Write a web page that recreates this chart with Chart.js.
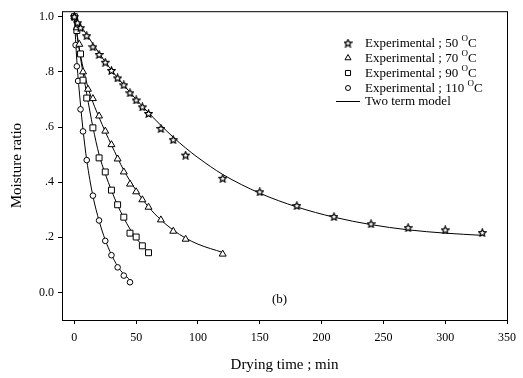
<!DOCTYPE html>
<html>
<head>
<meta charset="utf-8">
<script src="https://cdn.jsdelivr.net/npm/chart.js@4/dist/chart.umd.min.js"></script>
<style>
  html, body { margin: 0; padding: 0; background: #fff; }
  #wrap { width: 523px; height: 378px; }
</style>
</head>
<body>
<div id="wrap"><canvas id="dryChart" width="523" height="378"></canvas></div>
<script>
// --- Data ---
const t50 = [0, 2.5, 5, 10, 15, 20, 25, 30, 35, 40, 45, 50, 55, 60, 70, 80, 90, 120, 150, 180, 210, 240, 270, 300, 330];
const mr50 = [1.0, 0.978, 0.960, 0.931, 0.891, 0.863, 0.835, 0.805, 0.778, 0.753, 0.724, 0.698, 0.673, 0.649, 0.595, 0.554, 0.498, 0.414, 0.365, 0.315, 0.275, 0.249, 0.235, 0.227, 0.217];

const t70 = [0, 2, 4, 7, 11, 15, 20, 25, 30, 35, 40, 45, 50, 55, 60, 70, 80, 90, 120];
const mr70 = [1.0, 0.96, 0.90, 0.80, 0.737, 0.703, 0.64, 0.585, 0.536, 0.484, 0.437, 0.393, 0.365, 0.336, 0.309, 0.263, 0.222, 0.193, 0.139];

const t90 = [0, 2, 5, 7, 10, 15, 20, 25, 30, 35, 40, 45, 50, 55, 60];
const mr90 = [1.0, 0.95, 0.865, 0.77, 0.705, 0.597, 0.488, 0.437, 0.371, 0.318, 0.273, 0.215, 0.201, 0.169, 0.144];

const t110 = [0, 1, 2, 3, 5, 7, 10, 15, 20, 25, 30, 35, 40, 45];
const mr110 = [1.0, 0.897, 0.82, 0.767, 0.664, 0.584, 0.48, 0.351, 0.261, 0.187, 0.135, 0.091, 0.061, 0.037];

// two term model curves (traced)
const tm50 = [0, 10, 20, 30, 40, 50, 60, 70, 80, 90, 100, 120, 150, 180, 210, 240, 270, 300, 330];
const fit50 = [1.0, 0.935, 0.868, 0.806, 0.752, 0.70, 0.652, 0.606, 0.563, 0.524, 0.489, 0.428, 0.36, 0.31, 0.273, 0.246, 0.227, 0.215, 0.207];
const tm70 = [0, 5, 10, 15, 20, 25, 30, 40, 50, 60, 70, 80, 90, 100, 120];
const fit70 = [1.0, 0.86, 0.76, 0.69, 0.635, 0.583, 0.535, 0.443, 0.37, 0.31, 0.263, 0.226, 0.197, 0.175, 0.145];
const tm90 = [0, 5, 10, 15, 20, 25, 30, 35, 40, 45, 50, 55, 60];
const fit90 = [1.0, 0.85, 0.72, 0.60, 0.50, 0.43, 0.37, 0.316, 0.27, 0.23, 0.197, 0.17, 0.146];
const tm110 = [0, 2, 5, 7, 10, 15, 20, 25, 30, 35, 40, 44];
const fit110 = [1.0, 0.84, 0.68, 0.59, 0.48, 0.35, 0.26, 0.19, 0.137, 0.095, 0.066, 0.05];

const xTicks = [0, 50, 100, 150, 200, 250, 300, 350];
const yTicks = [0, 0.2, 0.4, 0.6, 0.8, 1.0];
const yTickLabels = ['0.0', '.2', '.4', '.6', '.8', '1.0'];

const legendLabels = ['Experimental ; 50 ', 'Experimental ; 70 ', 'Experimental ; 90 ', 'Experimental ; 110 '];
const SERIF = '"Liberation Serif", "Times New Roman", serif';

// --- Helpers ---
const pts = (xs, ys) => xs.map((x, i) => ({ x: x, y: ys[i] }));

// open five point star as an image point style
function makeStar(size) {
    const c = document.createElement('canvas');
    c.width = size; c.height = size;
    const g = c.getContext('2d');
    const cx = size / 2, cy = size / 2 + 0.4;
    const R = size / 2 - 0.6, r = R * 0.48;
    g.beginPath();
    for (let i = 0; i < 10; i++) {
        const rad = i % 2 === 0 ? R : r;
        const a = -Math.PI / 2 + i * Math.PI / 5;
        const px = cx + rad * Math.cos(a), py = cy + rad * Math.sin(a);
        if (i === 0) g.moveTo(px, py); else g.lineTo(px, py);
    }
    g.closePath();
    g.fillStyle = '#fff';
    g.fill();
    g.strokeStyle = '#000';
    g.lineWidth = 1.2;
    g.stroke();
    return c;
}
const starImg = makeStar(9);

function modelSet(xs, ys) {
    return {
        type: 'line', data: pts(xs, ys), borderColor: '#000', borderWidth: 1,
        pointRadius: 0, fill: false, cubicInterpolationMode: 'monotone', order: 2
    };
}
function expSet(xs, ys, style, radius) {
    return {
        type: 'scatter', data: pts(xs, ys), pointStyle: style, pointRadius: radius,
        pointBorderColor: '#000', pointBackgroundColor: '#fff', pointBorderWidth: 1, order: 1
    };
}

// --- Plugins: frame, legend, panel label ---
const framePlugin = {
    id: 'frame',
    afterDraw(chart) {
        const { ctx, chartArea: a, scales } = chart;
        ctx.save();
        ctx.strokeStyle = '#000';
        ctx.lineWidth = 1;
        ctx.strokeRect(a.left + 0.5, a.top + 0.5, a.right - a.left, a.bottom - a.top);

        // legend
        const rows = [43, 58, 73, 88];
        const styles = ['star', 'triangle', 'rect', 'circle'];
        const symX = 348, txtX = 365;
        ctx.textBaseline = 'middle';
        ctx.textAlign = 'left';
        rows.forEach((ry, i) => {
            if (styles[i] === 'star') {
                ctx.drawImage(starImg, symX - 4.5, ry - 4.5);
            } else {
                ctx.fillStyle = '#fff';
                ctx.strokeStyle = '#000';
                const rad = styles[i] === 'rect' ? 3.6 : (styles[i] === 'circle' ? 2.5 : 3.5);
                Chart.helpers.drawPoint(ctx, { pointStyle: styles[i], radius: rad, borderWidth: 1 }, symX, ry);
            }
            ctx.fillStyle = '#000';
            ctx.font = '13px ' + SERIF;
            const label = legendLabels[i];
            ctx.fillText(label, txtX, ry + 1);
            let w = ctx.measureText(label).width;
            ctx.font = '9px ' + SERIF;
            ctx.fillText('O', txtX + w, ry - 4);
            w += ctx.measureText('O').width;
            ctx.font = '13px ' + SERIF;
            ctx.fillText('C', txtX + w, ry + 1);
        });
        ctx.beginPath();
        ctx.moveTo(336, 101.5);
        ctx.lineTo(360, 101.5);
        ctx.stroke();
        ctx.font = '13px ' + SERIF;
        ctx.fillText('Two term model', txtX, 102);

        // panel label
        ctx.textAlign = 'center';
        ctx.fillText('(b)', scales.x.getPixelForValue(166), scales.y.getPixelForValue(-0.026));
        ctx.restore();
    }
};

// --- Chart ---
new Chart(document.getElementById('dryChart').getContext('2d'), {
    data: {
        datasets: [
            modelSet(tm50, fit50),
            modelSet(tm70, fit70),
            modelSet(tm90, fit90),
            modelSet(tm110, fit110),
            expSet(t50, mr50, starImg, 4),
            expSet(t70, mr70, 'triangle', 4),
            expSet(t90, mr90, 'rect', 4.2),
            expSet(t110, mr110, 'circle', 2.8)
        ]
    },
    options: {
        responsive: false,
        animation: false,
        layout: { padding: { top: 8, right: 11, left: 0, bottom: 0 } },
        plugins: { legend: { display: false }, tooltip: { enabled: false } },
        scales: {
            x: {
                type: 'linear', min: -10, max: 350,
                afterBuildTicks: s => { s.ticks = xTicks.map(v => ({ value: v })); },
                afterFit: s => { s.height = 58; },
                grid: { drawOnChartArea: false, drawTicks: true, tickLength: 4, color: '#000' },
                border: { display: false },
                ticks: { color: '#000', font: { family: SERIF, size: 12 }, padding: 7, maxRotation: 0 },
                title: { display: true, text: 'Drying time ; min', color: '#000', font: { family: SERIF, size: 15 }, padding: { top: 12 } }
            },
            y: {
                type: 'linear', min: -0.1, max: 1.02,
                afterBuildTicks: s => { s.ticks = yTicks.map(v => ({ value: v })); },
                afterFit: s => { s.width = 62; },
                grid: { drawOnChartArea: false, drawTicks: true, tickLength: 4, color: '#000' },
                border: { display: false },
                ticks: {
                    color: '#000', font: { family: SERIF, size: 12 }, padding: 4,
                    callback: v => yTickLabels[yTicks.findIndex(t => Math.abs(t - v) < 1e-6)]
                },
                title: { display: true, text: 'Moisture ratio', color: '#000', font: { family: SERIF, size: 15 }, padding: { top: 8, bottom: 0 } }
            }
        }
    },
    plugins: [framePlugin]
});
</script>
</body>
</html>
